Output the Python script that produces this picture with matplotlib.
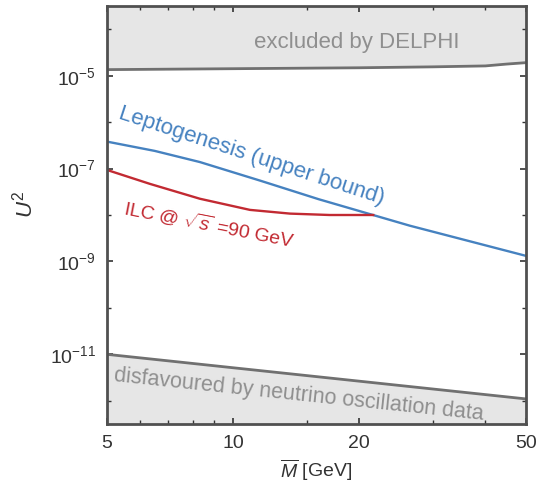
import numpy as np
import matplotlib
matplotlib.use("Agg")
import matplotlib.pyplot as plt
from matplotlib.ticker import FixedLocator, NullFormatter

plt.rcParams['font.family'] = ['Liberation Sans', 'DejaVu Sans']
plt.rcParams['mathtext.fontset'] = 'custom'
plt.rcParams['mathtext.rm'] = 'Liberation Sans'
plt.rcParams['mathtext.it'] = 'Liberation Sans:italic'

# Data, x = mean mass in GeV, y = log10(U^2)
delphi_M = [5, 10, 20, 30, 40, 45, 50]
delphi_logU2 = [-4.87, -4.85, -4.83, -4.81, -4.79, -4.75, -4.72]

lepto_M = [5, 6.5, 8.33, 11.6, 16, 26.4, 50]
lepto_logU2 = [-6.42, -6.62, -6.86, -7.26, -7.66, -8.23, -8.88]

ilc_M = [5, 6.33, 8.33, 10.97, 13.67, 17.0, 21.6]
ilc_logU2 = [-7.03, -7.33, -7.65, -7.89, -7.97, -8.00, -8.00]

osc_M = [5, 50]
osc_logU2 = [-11.0, -11.96]

ylim_log = (-12.5, -3.5)
xlim = (5, 50)
xticks_major = [5, 10, 20, 50]
xticks_minor = [6, 7, 8, 9, 15, 30, 40]
yticks_major_log = [-11, -9, -7, -5]
yticks_minor_log = [-12, -10, -8, -6, -4]

fig = plt.figure(figsize=(5.38, 4.95), dpi=100)
ax = fig.add_axes([107/538, 1 - 424/495, 419/538, 418/495])

fill_c = '#e6e6e6'
line_gray = '#707070'
text_gray = '#8f8f8f'
blue = '#4682c0'
red = '#c22a32'

dM = np.array(delphi_M, float)
dY = 10.0 ** np.array(delphi_logU2)
ax.fill_between(dM, dY, 10 ** ylim_log[1], color=fill_c, lw=0, zorder=1)
ax.plot(dM, dY, color=line_gray, lw=2.0, zorder=3)

oM = np.array(osc_M, float)
oY = 10.0 ** np.array(osc_logU2)
ax.fill_between(oM, 10 ** ylim_log[0], oY, color=fill_c, lw=0, zorder=1)
ax.plot(oM, oY, color=line_gray, lw=2.0, zorder=3)

ax.plot(lepto_M, 10.0 ** np.array(lepto_logU2), color=blue, lw=1.7, zorder=4)
ax.plot(ilc_M, 10.0 ** np.array(ilc_logU2), color=red, lw=1.7, zorder=5)

ax.set_xscale('log')
ax.set_yscale('log')
ax.set_xlim(*xlim)
ax.set_ylim(10 ** ylim_log[0], 10 ** ylim_log[1])

ax.xaxis.set_major_locator(FixedLocator(xticks_major))
ax.xaxis.set_minor_locator(FixedLocator(xticks_minor))
ax.set_xticklabels([str(v) for v in xticks_major])
ax.xaxis.set_minor_formatter(NullFormatter())
ax.yaxis.set_major_locator(FixedLocator([10.0 ** v for v in yticks_major_log]))
ax.yaxis.set_minor_locator(FixedLocator([10.0 ** v for v in yticks_minor_log]))
ax.set_yticklabels([r'$10^{%d}$' % v for v in yticks_major_log])
ax.yaxis.set_minor_formatter(NullFormatter())

ax.tick_params(which='both', direction='in', top=True, right=True,
               colors='#333333', labelcolor='#333333', labelsize=14)
ax.tick_params(which='major', length=4, width=1.2, pad=8)
ax.tick_params(which='minor', length=3, width=1.0)
for s in ax.spines.values():
    s.set_linewidth(2.0)
    s.set_color('#505050')
    s.set_zorder(6)

ax.set_xlabel(r'$\overline{M}$ [GeV]', fontsize=14, color='#333333', labelpad=4)
ax.set_ylabel(r'$U^2$', fontsize=16, color='#333333')
ax.yaxis.set_label_coords(-0.165, 0.525)

ax.text(0.597, 0.912, 'excluded by DELPHI', transform=ax.transAxes,
        fontsize=16, color=text_gray, ha='center', va='center', zorder=7)
ax.text(0.345, 0.64, 'Leptogenesis (upper bound)', transform=ax.transAxes,
        fontsize=16, color=blue, ha='center', va='center', rotation=-18, zorder=7)
ax.text(0.245, 0.478, r'ILC @ $\sqrt{s}$ =90 GeV', transform=ax.transAxes,
        fontsize=14, color=red, ha='center', va='center', rotation=-11, zorder=7)
ax.text(0.458, 0.07, 'disfavoured by neutrino oscillation data', transform=ax.transAxes,
        fontsize=15.5, color=text_gray, ha='center', va='center', rotation=-6, zorder=7)

fig.savefig('out.png', dpi=100)
